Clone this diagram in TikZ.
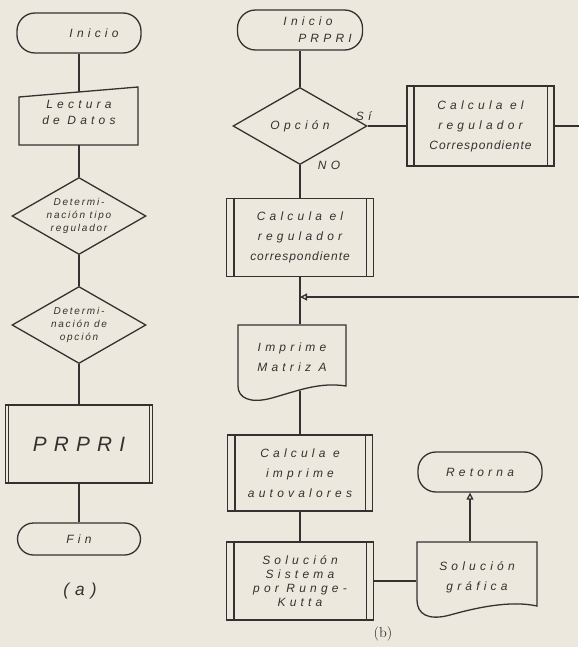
\documentclass[tikz,border=0pt]{standalone}
\usepackage{fontspec}
\newfontfamily\hand[LetterSpace=35]{Liberation Sans}
\newfontfamily\handmid[LetterSpace=18]{Liberation Sans}
\newfontfamily\tight[LetterSpace=8]{Liberation Sans}
\usetikzlibrary{arrows.meta,shapes.geometric}
\definecolor{paper}{RGB}{236,232,221}
\definecolor{ink}{RGB}{52,50,48}
\newcommand{\predbars}[2]{\draw ([xshift=#2]#1.north west) -- ([xshift=#2]#1.south west)
  ([xshift=-#2]#1.north east) -- ([xshift=-#2]#1.south east);}

\begin{document}
\begin{tikzpicture}[x=1pt,y=-1pt,color=ink,line width=1.3pt,font=\large\hand\itshape,
  term/.style={draw,rectangle,rounded corners=18pt,minimum width=124pt,minimum height=40pt,align=center},
  decision/.style={draw,diamond,aspect=1.7,inner sep=-18pt,minimum width=134pt,minimum height=77pt,
    align=center,font=\normalsize\handmid\itshape},
  proc/.style={draw,rectangle,minimum width=147pt,minimum height=78pt,align=center},
  doc/.style={minimum width=108pt,minimum height=60pt,align=center},
  open/.style={-{Triangle[open,length=7pt,width=7pt]}}]
\fill[paper] (0,0) rectangle (578,647);
\useasboundingbox (0,0) rectangle (578,647);
% (a)
\node[term] (ini) at (79,33) {\hspace*{30pt}Inicio};
\draw (19,97) -- (138,87) -- (138,145) -- (19,145) -- cycle;
\node[doc,minimum width=119pt,minimum height=40pt] (lect) at (79,112) {Lectura\\[2pt]de Datos};
\node[decision] (tipo) at (79,216) {Determi-\\[1pt]nación tipo\\[1pt]regulador};
\node[decision] (opa) at (79,325) {Determi-\\[1pt]nación de\\[1pt]opción};
\node[proc,font=\huge\hand\itshape] (prpri) at (79,444) {PRPRI};
\predbars{prpri}{3.5pt}
\node[term,minimum width=123pt,minimum height=32pt,rounded corners=16pt] (fin) at (79,539) {Fin};
\node[font=\LARGE\hand\itshape] (capa) at (80,591) {(a)};
\draw (ini) -- (lect.north |- 0,92) (lect.south |- 0,145) -- (tipo) -- (opa) -- (prpri) -- (fin);
% (b)
\node[term,minimum width=125pt] (inib) at (300,30) {\hspace*{16pt}Inicio\\[3pt]\hspace*{50pt}PRPRI};
\node[decision,font=\large\hand\itshape] (opb) at (300,126) {Opción};
\node[anchor=south] at ([xshift=-4pt,yshift=1pt]opb.east) {Sí};
\node[anchor=west] at ([xshift=14pt]opb.south) {NO};
\node[proc] (calb) at (300,237.5) {Calcula el\\[6pt]regulador\\[6pt]{\tight\itshape correspondiente}};
\predbars{calb}{8pt}
\coordinate (merge) at (300,297);
\draw (238,325) -- (346,325) -- (346,386) .. controls (320,382) and (300,390) .. (272,398)
  .. controls (250,404) and (238,398) .. (238,386) -- cycle;
\node[doc,minimum height=65pt] (imp) at (292,357.5) {Imprime\\[6pt]Matriz A};
\node[proc,minimum width=145pt,minimum height=76pt] (autov) at (300,473) {Calcula e\\[6pt]imprime\\[6pt]autovalores};
\predbars{autov}{8pt}
\node[proc] (solsis) at (300,581) {Solución\\Sistema\\por Runge-\\Kutta};
\predbars{solsis}{8pt}
\node[font=\Large\rmfamily] (capb) at (383,634) {(b)};
\draw (inib) -- (opb) -- (calb) -- (calb.south |- imp.north);
\draw (autov.north |- imp.south) -- (autov) -- (solsis);
% right column
\node[proc,minimum height=80pt] (calr) at (480.5,126) {Calcula el\\[6pt]regulador\\[6pt]{\tight\itshape Correspondiente}};
\predbars{calr}{7.5pt}
\draw (opb.east) -- (calr.west);
\draw[open] (calr.east) -- ++(35,0) |- (merge);
\node[term] (ret) at (480,472) {Retorna};
\draw (417,542) -- (537,542) -- (537,606) .. controls (510,600) and (475,608) .. (450,615)
  .. controls (428,621) and (417,614) .. (417,600) -- cycle;
\node[doc,minimum width=120pt,minimum height=70pt] (solgraf) at (477,577) {Solución\\[6pt]gráfica};
\draw[open] ([xshift=-7pt]solgraf.north) -- ([xshift=-7pt]solgraf.north |- ret.south);
\draw (solsis.east) -- (solsis.east -| solgraf.west);
\end{tikzpicture}
\end{document}
